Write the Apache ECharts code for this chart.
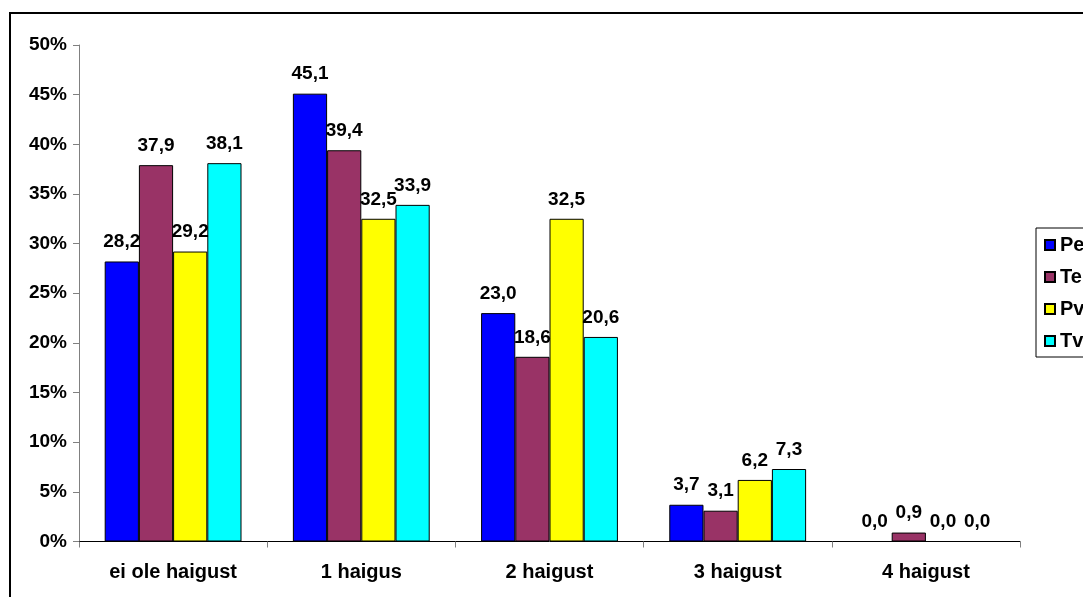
<!DOCTYPE html>
<html>
<head>
<meta charset="utf-8">
<script src="https://cdn.jsdelivr.net/npm/echarts@6/dist/echarts.min.js"></script>
<style>
  html, body { margin: 0; padding: 0; background: #fff; }
  #chart { width: 1083px; height: 597px; }
</style>
</head>
<body>
<div id="chart"></div>
<script>
// Number of illnesses per respondent group (share, %)
const categories = ['ei ole haigust', '1 haigus', '2 haigust', '3 haigust', '4 haigust'];
const seriesNames = ['Pe', 'Te', 'Pv', 'Tv'];
const valuesPe = [28.2, 45.1, 23.0, 3.7, 0.0];
const valuesTe = [37.9, 39.4, 18.6, 3.1, 0.9];
const valuesPv = [29.2, 32.5, 32.5, 6.2, 0.0];
const valuesTv = [38.1, 33.9, 20.6, 7.3, 0.0];
const seriesValues = [valuesPe, valuesTe, valuesPv, valuesTv];
const colors = ['#0000FF', '#993366', '#FFFF00', '#00FFFF'];

const FONT = 'Liberation Sans, Arial, sans-serif';
const textBase = { fontFamily: FONT, fontWeight: 'bold', fontSize: 19, color: '#000' };

const chart = echarts.init(document.getElementById('chart'), null, { renderer: 'canvas' });

chart.setOption({
  animation: false,
  backgroundColor: '#fff',
  grid: { left: 79, right: 63, top: 45, bottom: 55.5, containLabel: false },
  legend: {
    orient: 'vertical',
    left: 1036,
    top: 228,
    data: seriesNames,
    icon: 'rect',
    itemWidth: 10,
    itemHeight: 10,
    itemGap: 12,
    padding: [7, 60, 6, 8],
    borderColor: '#000',
    borderWidth: 1,
    textStyle: Object.assign({}, textBase, { fontSize: 20, lineHeight: 19 }),
    selectedMode: false
  },
  xAxis: {
    type: 'category',
    data: categories,
    axisLine: { lineStyle: { color: '#000', width: 1 } },
    axisTick: { show: true, length: 6, lineStyle: { color: '#808080' } },
    axisLabel: Object.assign({}, textBase, { fontSize: 20, margin: 21 }),
    splitLine: { show: false }
  },
  yAxis: {
    type: 'value',
    min: 0,
    max: 50,
    interval: 5,
    axisLine: { show: true, lineStyle: { color: '#808080', width: 1 } },
    axisTick: { show: true, length: 6, lineStyle: { color: '#808080' } },
    axisLabel: Object.assign({}, textBase, { margin: 12, formatter: '{value}%' }),
    splitLine: { show: false }
  },
  series: seriesNames.map((name, i) => ({
    name: name,
    type: 'bar',
    data: seriesValues[i],
    barGap: '0%',
    barCategoryGap: '27.3%',
    itemStyle: { color: colors[i], borderColor: '#000', borderWidth: 1 },
    label: Object.assign({}, textBase, {
      show: true,
      position: 'top',
      distance: 10,
      formatter: p => p.value.toFixed(1).replace('.', ',')
    })
  })),
  graphic: [{
    type: 'rect',
    shape: { x: 10, y: 13, width: 1200, height: 1000 },
    style: { fill: 'none', stroke: '#000', lineWidth: 2 },
    silent: true,
    z: 100
  }]
});
</script>
</body>
</html>
